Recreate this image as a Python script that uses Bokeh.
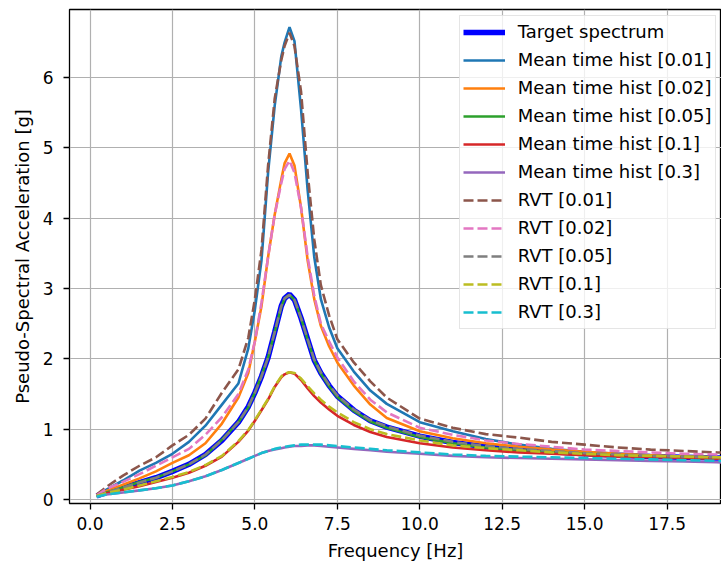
from bokeh.plotting import figure
from bokeh.models import Range1d, FixedTicker, Legend, LegendItem
from bokeh.embed import file_html
from bokeh.resources import INLINE

# ---------------- data ----------------
freq = [0.2, 0.5, 1.0, 1.5, 2.0, 2.5, 3.0, 3.5, 4.0, 4.5,
        4.8, 5.0, 5.2, 5.4, 5.6, 5.8, 5.9, 6.05, 6.2, 6.4,
        6.6, 6.8, 7.0, 7.25, 7.5, 8.0, 8.5, 9.0, 10.0, 11.0,
        12.0, 13.0, 14.0, 15.0, 16.0, 17.0, 18.0, 19.0, 20.0]

target = [0.05, 0.10, 0.17, 0.24, 0.31, 0.40, 0.50, 0.64, 0.84, 1.10,
          1.32, 1.52, 1.75, 2.02, 2.38, 2.75, 2.86, 2.92, 2.84, 2.58,
          2.28, 1.98, 1.80, 1.62, 1.47, 1.27, 1.12, 1.03, 0.90, 0.81,
          0.75, 0.71, 0.68, 0.65, 0.63, 0.61, 0.60, 0.59, 0.58]

mean_001 = [0.06, 0.14, 0.27, 0.41, 0.52, 0.65, 0.82, 1.05, 1.35, 1.65,
            2.15, 2.70, 3.40, 4.65, 5.60, 6.30, 6.50, 6.72, 6.52, 5.55,
            4.40, 3.45, 2.85, 2.45, 2.15, 1.82, 1.55, 1.36, 1.10, 0.97,
            0.86, 0.78, 0.72, 0.68, 0.65, 0.63, 0.61, 0.60, 0.59]
mean_002 = [0.05, 0.12, 0.21, 0.30, 0.40, 0.52, 0.63, 0.80, 1.08, 1.45,
            1.80, 2.25, 2.75, 3.45, 4.05, 4.55, 4.78, 4.92, 4.75, 4.15,
            3.40, 2.85, 2.47, 2.18, 1.95, 1.62, 1.35, 1.16, 0.97, 0.87,
            0.80, 0.75, 0.71, 0.68, 0.65, 0.63, 0.61, 0.60, 0.59]
mean_005 = [0.05, 0.10, 0.17, 0.25, 0.31, 0.40, 0.50, 0.63, 0.85, 1.10,
            1.31, 1.52, 1.76, 2.02, 2.38, 2.74, 2.86, 2.91, 2.84, 2.58,
            2.27, 1.98, 1.79, 1.61, 1.46, 1.26, 1.11, 1.02, 0.89, 0.80,
            0.74, 0.70, 0.67, 0.65, 0.62, 0.61, 0.60, 0.58, 0.57]
mean_01 = [0.05, 0.09, 0.14, 0.19, 0.25, 0.31, 0.38, 0.48, 0.61, 0.82,
           0.98, 1.12, 1.27, 1.42, 1.60, 1.74, 1.78, 1.81, 1.79, 1.70,
           1.58, 1.47, 1.38, 1.28, 1.19, 1.06, 0.96, 0.89, 0.80, 0.74,
           0.70, 0.67, 0.65, 0.63, 0.61, 0.60, 0.59, 0.58, 0.57]
mean_03 = [0.04, 0.07, 0.10, 0.13, 0.16, 0.20, 0.26, 0.33, 0.42, 0.52,
           0.58, 0.62, 0.66, 0.69, 0.71, 0.73, 0.74, 0.75, 0.76, 0.76,
           0.77, 0.77, 0.76, 0.75, 0.74, 0.72, 0.70, 0.68, 0.65, 0.62,
           0.60, 0.59, 0.58, 0.57, 0.56, 0.55, 0.54, 0.53, 0.52]

rvt_001 = [0.07, 0.18, 0.34, 0.48, 0.60, 0.77, 0.92, 1.15, 1.52, 1.85,
           2.30, 2.85, 3.55, 4.75, 5.70, 6.25, 6.45, 6.64, 6.45, 5.80,
           4.65, 3.70, 3.05, 2.62, 2.28, 1.95, 1.68, 1.45, 1.15, 1.02,
           0.93, 0.88, 0.82, 0.78, 0.74, 0.71, 0.69, 0.67, 0.66]
rvt_002 = [0.06, 0.15, 0.25, 0.36, 0.48, 0.60, 0.72, 0.92, 1.17, 1.50,
           1.85, 2.25, 2.80, 3.45, 4.05, 4.50, 4.70, 4.82, 4.65, 4.15,
           3.45, 2.90, 2.50, 2.25, 2.02, 1.68, 1.42, 1.24, 1.02, 0.92,
           0.84, 0.79, 0.75, 0.71, 0.69, 0.67, 0.65, 0.64, 0.63]
rvt_005 = [0.05, 0.10, 0.17, 0.24, 0.31, 0.40, 0.50, 0.64, 0.84, 1.10,
           1.32, 1.52, 1.75, 2.02, 2.38, 2.75, 2.86, 2.91, 2.84, 2.58,
           2.28, 1.99, 1.81, 1.63, 1.48, 1.28, 1.13, 1.04, 0.91, 0.82,
           0.76, 0.72, 0.69, 0.66, 0.64, 0.62, 0.61, 0.60, 0.59]
rvt_01 = [0.05, 0.09, 0.14, 0.20, 0.26, 0.32, 0.39, 0.49, 0.62, 0.83,
          0.99, 1.13, 1.28, 1.43, 1.61, 1.75, 1.79, 1.81, 1.80, 1.72,
          1.61, 1.51, 1.42, 1.32, 1.24, 1.10, 1.00, 0.93, 0.84, 0.77,
          0.73, 0.70, 0.67, 0.65, 0.63, 0.62, 0.61, 0.60, 0.59]
rvt_03 = [0.04, 0.07, 0.10, 0.13, 0.16, 0.20, 0.26, 0.33, 0.42, 0.52,
          0.58, 0.62, 0.66, 0.69, 0.72, 0.74, 0.75, 0.76, 0.77, 0.78,
          0.78, 0.78, 0.78, 0.77, 0.76, 0.74, 0.72, 0.70, 0.67, 0.64,
          0.62, 0.61, 0.60, 0.59, 0.58, 0.57, 0.56, 0.55, 0.55]

mean_labels = ["Mean time hist [0.01]", "Mean time hist [0.02]", "Mean time hist [0.05]",
               "Mean time hist [0.1]", "Mean time hist [0.3]"]
rvt_labels = ["RVT [0.01]", "RVT [0.02]", "RVT [0.05]", "RVT [0.1]", "RVT [0.3]"]
mean_colors = ["#1f77b4", "#ff7f0e", "#2ca02c", "#d62728", "#9467bd"]
rvt_colors = ["#8c564b", "#e377c2", "#7f7f7f", "#bcbd22", "#17becf"]

x_ticks = [0.0, 2.5, 5.0, 7.5, 10.0, 12.5, 15.0, 17.5]
x_tick_labels = ["0.0", "2.5", "5.0", "7.5", "10.0", "12.5", "15.0", "17.5"]
y_ticks = [0, 1, 2, 3, 4, 5, 6]
y_tick_labels = ["0", "1", "2", "3", "4", "5", "6"]

FONT = "DejaVu Sans"

# ---------------- figure ----------------
p = figure(width=721, height=563, output_backend="svg", toolbar_location=None,
           x_range=Range1d(-0.622, 19.15), y_range=Range1d(-0.057, 6.97),
           min_border_left=69, min_border_right=0, min_border_top=9,
           min_border_bottom=60)
p.background_fill_color = "white"
p.border_fill_color = "white"
p.outline_line_color = "black"
p.outline_line_width = 1.3

p.xaxis.ticker = FixedTicker(ticks=x_ticks)
p.xaxis.major_label_overrides = {t: l for t, l in zip(x_ticks, x_tick_labels)}
p.yaxis.ticker = FixedTicker(ticks=y_ticks)
p.yaxis.major_label_overrides = {t: l for t, l in zip(y_ticks, y_tick_labels)}

for ax in (p.xaxis[0], p.yaxis[0]):
    ax.axis_line_color = None
    ax.major_tick_in = 0
    ax.major_tick_out = 6
    ax.major_tick_line_width = 1.3
    ax.major_tick_line_color = "black"
    ax.minor_tick_line_color = None
    ax.major_label_text_font = FONT
    ax.major_label_text_font_size = "17px"
    ax.major_label_text_color = "black"
    ax.axis_label_text_font = FONT
    ax.axis_label_text_font_size = "18px"
    ax.axis_label_text_font_style = "normal"
    ax.axis_label_text_color = "black"

p.xaxis.axis_label = "Frequency [Hz]"
p.yaxis.axis_label = "Pseudo-Spectral Acceleration [g]"
p.xaxis.major_label_standoff = 7
p.xaxis.axis_label_standoff = 7
p.yaxis.major_label_standoff = 10
p.yaxis.axis_label_standoff = 7

p.grid.grid_line_color = "#b0b0b0"
p.grid.grid_line_width = 1.2

# ---------------- lines ----------------
items = []
r = p.line(freq, target, line_color="#0000ff", line_width=5.5)
items.append(LegendItem(label="Target spectrum", renderers=[r]))

mean_series = [mean_001, mean_002, mean_005, mean_01, mean_03]
rvt_series = [rvt_001, rvt_002, rvt_005, rvt_01, rvt_03]

for ys, lab, col in zip(mean_series, mean_labels, mean_colors):
    r = p.line(freq, ys, line_color=col, line_width=2.6)
    items.append(LegendItem(label=lab, renderers=[r]))
for ys, lab, col in zip(rvt_series, rvt_labels, rvt_colors):
    r = p.line(freq, ys, line_color=col, line_width=2.6, line_dash="10 4")
    items.append(LegendItem(label=lab, renderers=[r]))

legend = Legend(items=items, location=(389.7, 174.3))
legend.label_text_font = FONT
legend.label_text_font_size = "18px"
legend.label_text_color = "black"
legend.glyph_width = 42
legend.glyph_height = 26
legend.label_height = 26
legend.spacing = 2
legend.padding = 3
legend.label_standoff = 13
legend.border_line_color = "#cccccc"
legend.border_line_width = 1
legend.background_fill_color = "white"
legend.background_fill_alpha = 0.8
p.add_layout(legend)

open("out.html", "w").write(file_html(p, INLINE))
